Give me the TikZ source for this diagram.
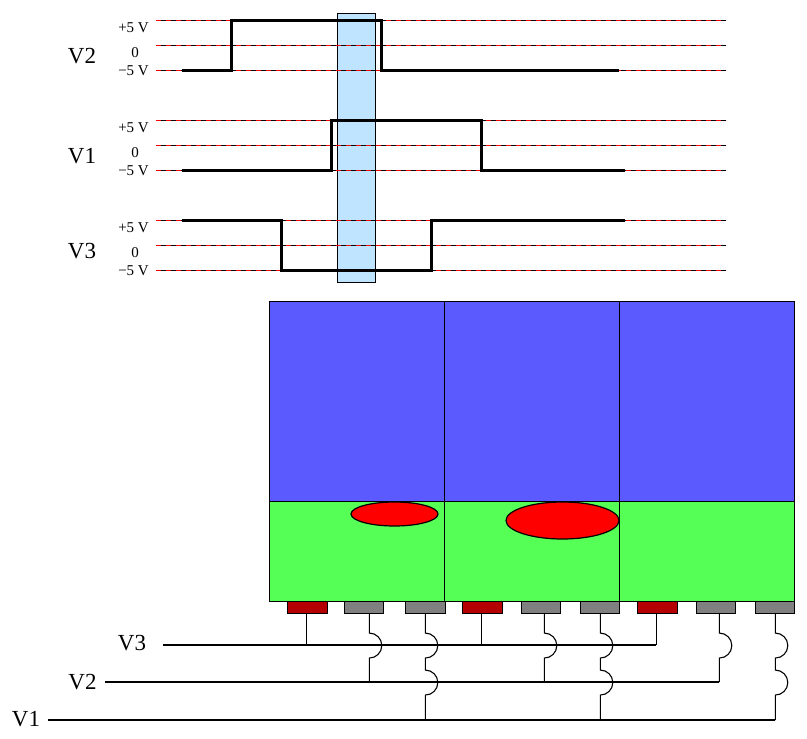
\documentclass[tikz,border=0pt]{standalone}
\usepackage{fontspec}
\setmainfont{Liberation Serif}
\definecolor{panelblue}{RGB}{90,90,255}
\definecolor{panelgreen}{RGB}{85,255,85}
\definecolor{padred}{RGB}{180,0,0}
\definecolor{padgray}{RGB}{128,128,128}
\definecolor{hlblue}{RGB}{190,228,255}
\definecolor{blobred}{RGB}{255,0,0}
\begin{document}
\begin{tikzpicture}[x=1pt,y=-1pt,
  biglabel/.style={font=\fontsize{23}{25}\selectfont, inner sep=0pt},
  smalllabel/.style={font=\fontsize{15}{17}\selectfont, inner sep=0pt},
  refline/.style={line width=0.8pt, black},
  refdash/.style={line width=0.8pt, blobred, dash pattern=on 5pt off 5pt},
  wave/.style={line width=3pt, black, line join=miter},
  padr/.style={draw=black, line width=0.8pt, fill=padred, minimum width=40.5pt, minimum height=12.3pt, inner sep=0pt},
  padg/.style={draw=black, line width=0.8pt, fill=padgray, minimum width=39.5pt, minimum height=12.3pt, inner sep=0pt},
  wire/.style={line width=1.1pt, black},
  cell/.style={draw=black, line width=0.9pt}
]
\useasboundingbox (0,0) rectangle (807,739);

% highlight window
\draw[fill=hlblue, line width=0.9pt] (337,13) rectangle (375,282);

% reference lines (black with red dashes)
\foreach \yy in {20,45,70,120,145,170,220,245,270}{
  \draw[refline] (156,\yy) -- (726,\yy);
  \draw[refdash] (156,\yy) -- (726,\yy);
}

% axis labels
\foreach \base/\name in {0/V2,100/V1,200/V3}{
  \node[smalllabel, anchor=east] at (149,{\base+28}) {+5 V};
  \node[smalllabel] at (135,{\base+53}) {0};
  \node[smalllabel, anchor=east] at (149,{\base+71}) {−5 V};
}
\node[biglabel] (tv2) at (82,56) {V2};
\node[biglabel] (tv1) at (82,156) {V1};
\node[biglabel] (tv3) at (82,251) {V3};

% waveforms
\draw[wave] (182,70) -- (231.5,70) -- (231.5,20) -- (381.5,20) -- (381.5,70) -- (619,70);
\draw[wave] (182,170) -- (331.5,170) -- (331.5,120) -- (481.5,120) -- (481.5,170) -- (625,170);
\draw[wave] (182,220) -- (281.5,220) -- (281.5,270) -- (431.5,270) -- (431.5,220) -- (625,220);

% device panel
\draw[cell, fill=panelblue] (269,301) rectangle (794,501);
\draw[cell, fill=panelgreen] (269,501) rectangle (794,601);
\draw[cell] (444,301) -- (444,601);
\draw[cell] (619,301) -- (619,601);
\draw[line width=1.2pt, fill=blobred] (394.5,514) ellipse [x radius=43.5pt, y radius=12pt];
\draw[line width=1.2pt, fill=blobred] (562.5,520.5) ellipse [x radius=56.5pt, y radius=18.5pt];

% pads
\node[padr] (p1) at (307.5,607.2) {};
\node[padg] (p2) at (363.8,607.2) {};
\node[padg] (p3) at (425.5,607.2) {};
\node[padr] (p4) at (482.5,607.2) {};
\node[padg] (p5) at (540.8,607.2) {};
\node[padg] (p6) at (599.8,607.2) {};
\node[padr] (p7) at (657.5,607.2) {};
\node[padg] (p8) at (715.7,607.2) {};
\node[padg] (p9) at (774.8,607.2) {};

% bus labels and lines
\node[biglabel] (bv3) at (132,643) {V3};
\node[biglabel] (bv2) at (82.5,682) {V2};
\node[biglabel] (bv1) at (26,719) {V1};
\coordinate (v3s) at (163,645);
\coordinate (v3e) at (656.3,645);
\coordinate (v2s) at (105,682);
\coordinate (v2e) at (719.3,682);
\coordinate (v1s) at (48,720);
\coordinate (v1e) at (775.3,720);
\draw[wire] (v3s) -- (v3e);
\draw[wire] (v2s) -- (v2e);
\draw[wire] (v1s) -- (v1e);

% V3 connections
\draw[wire] ([xshift=-1.2pt]p1.south) -- ([xshift=-1.2pt]p1.south |- v3s);
\draw[wire] ([xshift=-1.2pt]p4.south) -- ([xshift=-1.2pt]p4.south |- v3s);
\draw[wire] ([xshift=-1.2pt]p7.south) -- (v3e);

% V2 connections (hop over V3)
\foreach \p/\dx in {p2/5.5,p5/3.5,p8/3.6}{
  \draw[wire] ([xshift=\dx pt]\p.south) -- ([xshift=\dx pt, yshift=-19.3pt]\p.south)
     arc[start angle=90, end angle=-90, radius=12.5pt]
     -- ([xshift=\dx pt]\p.south |- v2s);
}

% V1 connections (hop over V3 and V2)
\foreach \p/\dx in {p3/-0.2,p6/0.5,p9/0.5}{
  \draw[wire] ([xshift=\dx pt]\p.south) -- ([xshift=\dx pt, yshift=-19.3pt]\p.south)
     arc[start angle=90, end angle=-90, radius=12.5pt]
     -- ([xshift=\dx pt, yshift=-56.3pt]\p.south)
     arc[start angle=90, end angle=-90, radius=12.5pt]
     -- ([xshift=\dx pt]\p.south |- v1s);
}
\end{tikzpicture}
\end{document}
